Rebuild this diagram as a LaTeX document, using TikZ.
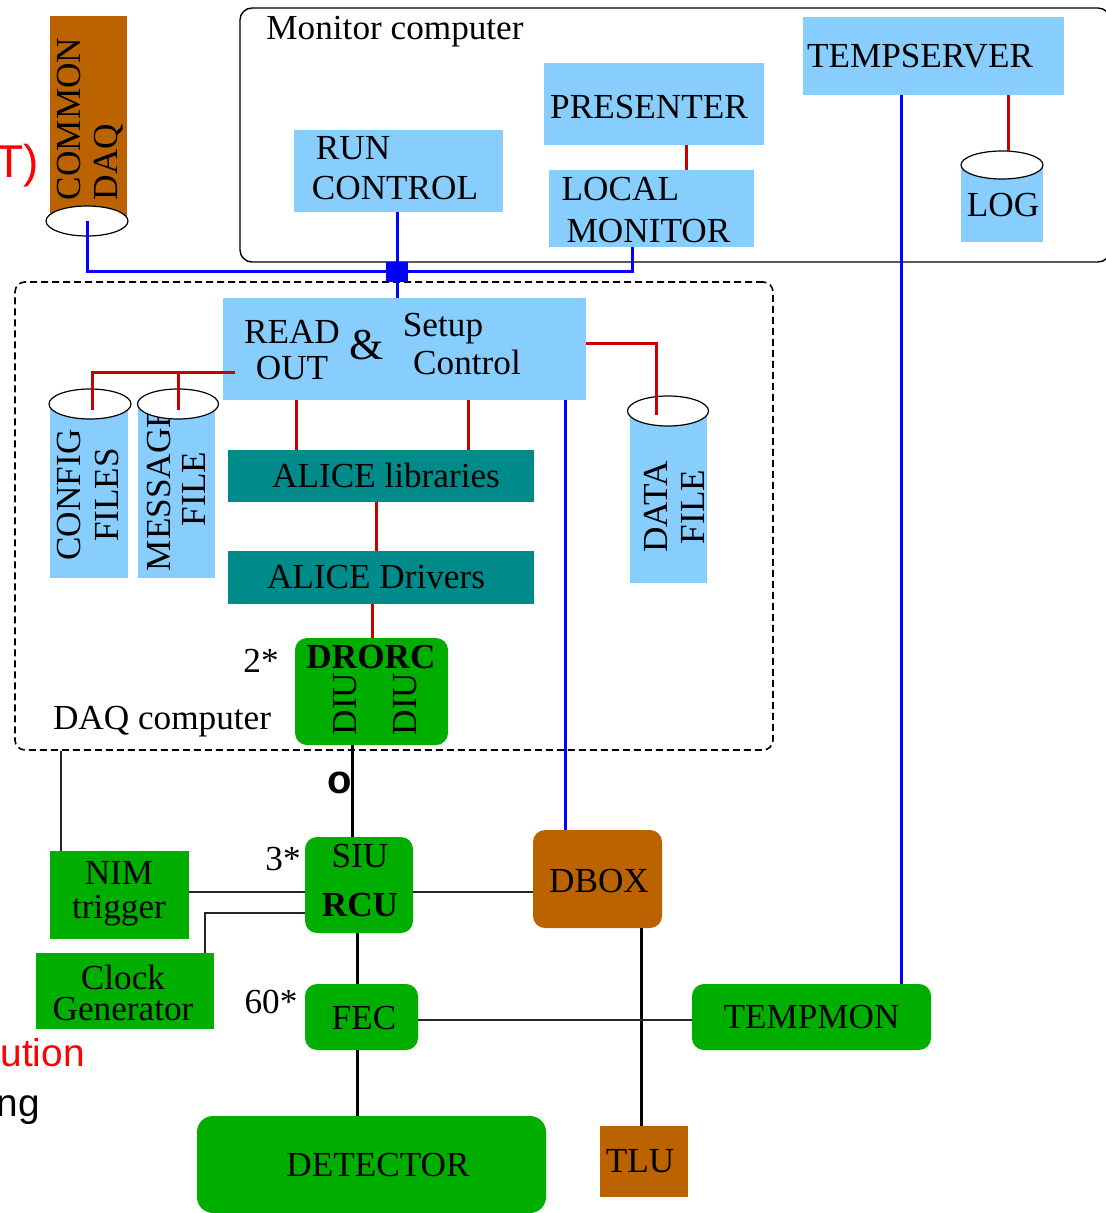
\documentclass[tikz,border=0pt]{standalone}
\usepackage{fontspec}
\setmainfont{Liberation Serif}
\newfontfamily\slidefont{Liberation Sans}
\usetikzlibrary{shapes.geometric,positioning}
\definecolor{dlight}{HTML}{87CEFF}
\definecolor{dteal}{HTML}{008B8B}
\definecolor{dgreen}{HTML}{00AE00}
\definecolor{dbrown}{HTML}{BB6300}
\definecolor{dred}{HTML}{C80000}
\definecolor{dblue}{HTML}{0000FF}
\tikzset{
 wh/.style 2 args={minimum width=#1*0.5pt, minimum height=#2*0.5pt, inner sep=0pt},
 lbl/.style={font=\fontsize{17.6}{17.6}\selectfont, inner sep=0pt, align=center},
 lightbox/.style={lbl, fill=dlight},
 tealbox/.style={lbl, fill=dteal},
 greenbox/.style={lbl, fill=dgreen},
 greenround/.style={lbl, fill=dgreen, rounded corners=6pt},
 brownbox/.style={lbl, fill=dbrown},
 brownround/.style={lbl, fill=dbrown, rounded corners=6pt},
 cylcap/.style={draw=black, line width=0.6pt, fill=white, ellipse, inner sep=0pt},
 redline/.style={dred, line width=1.5pt},
 blueline/.style={dblue, line width=1.5pt},
 blackline/.style={black, line width=1.5pt},
 thinline/.style={black!85, line width=0.8pt},
 slidetext/.style={font=\slidefont\fontsize{19.4}{19.4}\selectfont, inner sep=0pt},
}
\begin{document}
\begin{tikzpicture}[x=0.5pt,y=-0.5pt]
 \path[use as bounding box, clip] (0,0) rectangle (1106,1213);
 % computer frames
 \node[draw=black, line width=0.7pt, rounded corners=6pt, wh={870}{254}] (monitor) at (675,135) {};
 \node[draw=black, line width=0.8pt, dash pattern=on 3.5pt off 2pt, rounded corners=5pt, wh={758}{468}] (daqpc) at (394,516) {};
 \node[lbl] (monitorlbl) at (395,32) {Monitor computer};
 \node[lbl] (daqpclbl) at (162,722) {DAQ computer};
 % cropped slide text
 \node[slidetext, font=\slidefont\fontsize{23}{23}\selectfont, text=red, anchor=east] (slidea) at (39,166) {T)};
 \node[slidetext, text=red, anchor=east] (slideb) at (85,1053) {ution};
 \node[slidetext, anchor=east] (slidec) at (40,1110) {ng};
 % monitor computer
 \node[lightbox, wh={209}{82}] (runctl) at (398.5,171) {};
 \node[lbl, align=left] (runlbl) at (395,168) {\hspace*{2pt}RUN\\[2.5pt]CONTROL};
 \node[lightbox, wh={220}{82}] (presenter) at (654,104) {};
 \node[lbl] (presenterlbl) at (649,107) {PRESENTER};
 \node[lightbox, wh={205}{77}] (localmon) at (651.5,208.5) {};
 \node[lbl, align=left] (locallbl) at (646,210) {LOCAL\\[3.5pt]\hspace*{2.5pt}MONITOR};
 \node[lightbox, wh={261}{78}] (tempserver) at (933.5,56) {};
 \node[lbl] (templbl) at (920,56) {TEMPSERVER};
 \node[lightbox, wh={82}{77}] (log) at (1002,203.5) {};
 \node[lbl] (loglbl) at (1003,205) {LOG};
 \node[cylcap, wh={82}{28}] (logcap) at (1002,165) {};
 % common daq
 \node[brownbox, wh={77}{206}] (common) at (88.5,119) {};
 \node[lbl, rotate=90, align=left] (commonlbl) at (90,119) {COMMON\\[1pt]DAQ};
 \node[cylcap, wh={82}{30}] (commoncap) at (87,221) {};
 % daq computer
 \node[lightbox, wh={363}{102}] (readout) at (404.5,349) {};
 \node[lbl] (readlbl) at (292,350) {READ\\OUT};
 \node[lbl, font=\fontsize{22}{22}\selectfont] (andlbl) at (367,345) {\&};
 \node[lbl] (setuplbl) at (443,329) {Setup};
 \node[lbl] (controllbl) at (467,362) {Control};
 \node[lightbox, wh={78}{176}] (config) at (89,490) {};
 \node[lbl, rotate=90] (configlbl) at (88,495) {CONFIG\\[1pt]FILES};
 \node[lightbox, wh={77}{176}] (message) at (176.5,490) {};
 \node[lbl, rotate=90] (messagelbl) at (176,489) {MESSAGE\\FILE};
 \node[lightbox, wh={77}{173}] (datafile) at (668.5,496.5) {};
 \node[lbl, rotate=90] (datalbl) at (674,507) {DATA\\[1pt]FILE};
 \node[cylcap, wh={82}{30}] (configcap) at (90,404) {};
 \node[cylcap, wh={81}{30}] (messagecap) at (178,404) {};
 \node[cylcap, wh={81}{30}] (datacap) at (668,411) {};
 \node[tealbox, wh={306}{52}] (libs) at (381,476) {};
 \node[lbl] (libslbl) at (386,475) {ALICE libraries};
 \node[tealbox, wh={306}{53}] (drivers) at (381,577.5) {};
 \node[lbl] (driverslbl) at (376,577) {ALICE Drivers};
 \node[greenround, wh={153}{107}] (drorc) at (371.5,691.5) {};
 \node[lbl, font=\bfseries\fontsize{17.6}{17.6}\selectfont] (drorclbl) at (371,657) {DRORC};
 \node[lbl, rotate=90] (diua) at (345,704) {DIU};
 \node[lbl, rotate=90] (diub) at (405,704) {DIU};
 \node[lbl] (drorcn) at (261,661) {2*};
 % front end
 \node[lbl, font=\slidefont\bfseries\fontsize{20}{20}\selectfont] (oring) at (340,783) {o};
 \node[greenround, wh={108}{96}] (siurcu) at (359,885) {};
 \node[lbl] (siulbl) at (360,856) {SIU};
 \node[lbl, font=\bfseries\fontsize{17.6}{17.6}\selectfont] (rculbl) at (360,905) {RCU};
 \node[lbl] (siun) at (283,859) {3*};
 \node[greenbox, wh={139}{88}] (nim) at (119.5,895) {};
 \node[lbl] (nimlbl) at (119,894) {NIM\\[-0.5pt]trigger};
 \node[greenbox, wh={178}{76}] (clock) at (125,991) {};
 \node[lbl] (clocklbl) at (123,993) {Clock\\[-2.5pt]Generator};
 \node[greenround, wh={113}{66}] (fec) at (361.5,1017) {};
 \node[lbl] (feclbl) at (364,1018) {FEC};
 \node[lbl] (fecn) at (271,1002) {60*};
 \node[greenround, wh={349}{97}, rounded corners=8pt] (detector) at (371.5,1164.5) {};
 \node[lbl] (detectorlbl) at (378,1165) {DETECTOR};
 \node[brownround, wh={129}{98}] (dbox) at (597.5,879) {};
 \node[lbl] (dboxlbl) at (599,881) {DBOX};
 \node[greenround, wh={239}{66}] (tempmon) at (811.5,1017) {TEMPMON};
 \node[brownbox, wh={88}{71}] (tlu) at (644,1161.5) {};
 \node[lbl] (tlulbl) at (640,1161) {TLU};
 % tap points
 \coordinate (bustap) at (632,247);
 \coordinate (runtap) at (397,212);
 \coordinate (prestap) at (686,145);
 \coordinate (tempblue) at (901,95);
 \coordinate (tempred) at (1008,95);
 \coordinate (logtap) at (1008,152);
 \coordinate (ctrltap) at (565,400);
 \coordinate (datatap) at (656,415);
 \coordinate (rdrow) at (586,344);
 \coordinate (filerow) at (235,373);
 \coordinate (cfgtap) at (92,410);
 \coordinate (msgtap) at (178,410);
 \coordinate (libtapa) at (296,400);
 \coordinate (libtapb) at (468,400);
 \coordinate (drvtap) at (376,502);
 \coordinate (dortap) at (372,604);
 \coordinate (fibre) at (352,745);
 \coordinate (nimtap) at (61,851);
 \coordinate (trigrow) at (247,892);
 \coordinate (clktap) at (205,913);
 \coordinate (fecup) at (357,933);
 \coordinate (fecdown) at (357,1050);
 \coordinate (tempmonrow) at (550,1020);
 \coordinate (tlutap) at (641,928);
 % network
 \node[fill=dblue, wh={22}{20}] (hub) at (397,272) {};
 \draw[blueline] (commoncap.center) |- (hub);
 \draw[blueline] (hub) -| (bustap);
 \draw[blueline] (runtap) -- (hub) -- (readout.north -| hub);
 \draw[blueline] (ctrltap) -- (dbox.north -| ctrltap);
 \draw[blueline] (tempblue) -- (tempmon.north -| tempblue);
 % red links
 \draw[redline] (prestap) -- (localmon.north -| prestap);
 \draw[redline] (tempred) -- (logtap);
 \draw[redline] (rdrow) -| (datatap);
 \draw[redline] (filerow) -| (cfgtap);
 \draw[redline] (filerow -| msgtap) -- (msgtap);
 \draw[redline] (libtapa) -- (libs.north -| libtapa);
 \draw[redline] (libtapb) -- (libs.north -| libtapb);
 \draw[redline] (drvtap) -- (drivers.north -| drvtap);
 \draw[redline] (dortap) -- (drorc.north -| dortap);
 % black links
 \draw[blackline] (fibre) -- (siurcu.north -| fibre);
 \draw[blackline] (fecup) -- (fec.north -| fecup);
 \draw[blackline] (fecdown) -- (detector.north -| fecdown);
 \draw[blackline] (tlutap) -- (tlu.north -| tlutap);
 \draw[thinline] (nimtap) -- (daqpc.south -| nimtap);
 \draw[thinline] (nim.east |- trigrow) -- (siurcu.west |- trigrow);
 \draw[thinline] (siurcu.east |- trigrow) -- (dbox.west |- trigrow);
 \draw[thinline] (clock.north -| clktap) |- (siurcu.west |- clktap);
 \draw[thinline] (fec.east |- tempmonrow) -- (tempmon.west |- tempmonrow);
\end{tikzpicture}
\end{document}
